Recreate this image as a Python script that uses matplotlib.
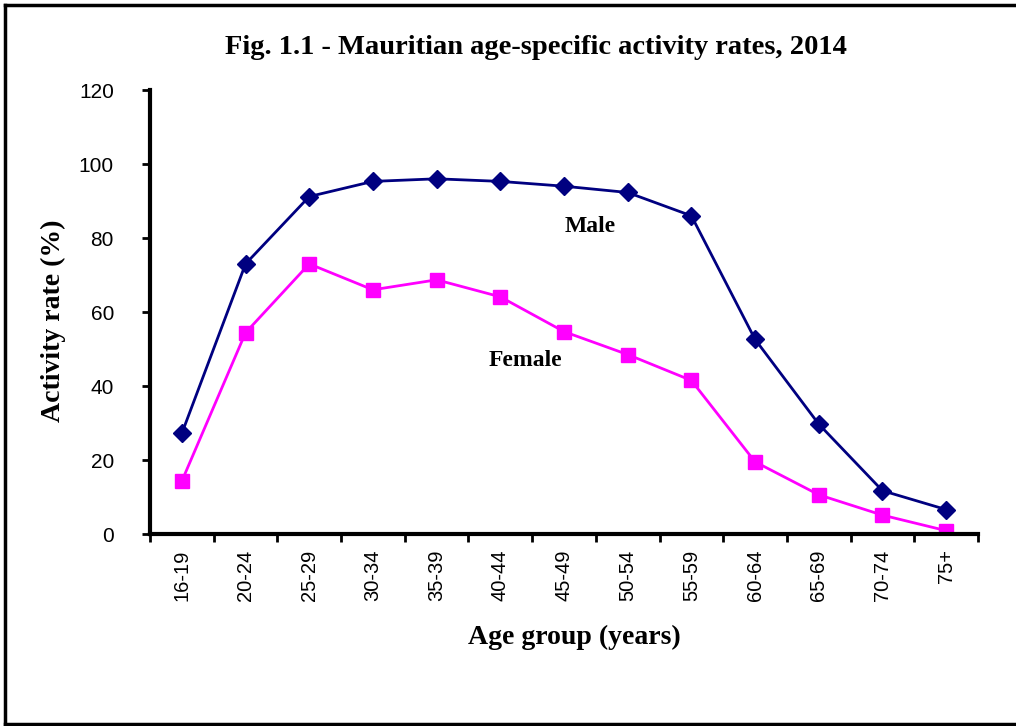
import numpy as np
import matplotlib.pyplot as plt
from matplotlib.lines import Line2D

age_groups = ["16-19", "20-24", "25-29", "30-34", "35-39", "40-44", "45-49",
              "50-54", "55-59", "60-64", "65-69", "70-74", "75+"]
male = [27.2, 73.0, 91.2, 95.3, 96.0, 95.3, 94.0, 92.3, 86.0, 52.6, 29.7, 11.7, 6.6]
female = [14.3, 54.4, 73.0, 66.0, 68.7, 64.1, 54.7, 48.5, 41.5, 19.5, 10.6, 5.1, 0.9]

serif = ["Liberation Serif", "DejaVu Serif"]
sans = ["Liberation Sans", "DejaVu Sans"]

fig = plt.figure(figsize=(10.16, 7.26), dpi=100)
ax = fig.add_axes([150 / 1016, 1 - 534 / 726, 828 / 1016, 444 / 726])

x = np.arange(len(age_groups))
ax.plot(x, male, color="#000080", lw=2, marker="D", ms=9, mfc="#000080", mec="#000080")
ax.plot(x, female, color="#FF00FF", lw=2, marker="s", ms=10, mfc="#FF00FF", mec="#FF00FF")

ax.set_xlim(-0.5, len(age_groups) - 0.5)
ax.set_ylim(0, 120)
ax.set_yticks(np.arange(0, 121, 20))
ax.set_xticks(x)
ax.set_xticklabels(age_groups, rotation=90, fontsize=14.5, family=sans)
ax.set_xticks(np.arange(-0.5, len(age_groups)), minor=True)
ax.tick_params(axis="x", which="major", length=0, pad=11)
ax.tick_params(axis="x", which="minor", length=6, width=2, direction="out")
ax.tick_params(axis="y", length=6, width=2, direction="out", labelsize=15, pad=20)
for lab in ax.get_yticklabels():
    lab.set_family(sans)

for s in ["top", "right"]:
    ax.spines[s].set_visible(False)
for s in ["left", "bottom"]:
    ax.spines[s].set_linewidth(3)

ax.set_xlabel("Age group (years)", fontsize=20, fontweight="bold", family=serif)
ax.xaxis.set_label_coords((574 - 150) / 828, (534 - 625) / 444)
ax.set_ylabel("Activity rate (%)", fontsize=20, fontweight="bold", family=serif)
ax.yaxis.set_label_coords((66 - 150) / 828, (534 - 321) / 444)

ax.text(6.41, 83.2, "Male", fontsize=17, fontweight="bold", family=serif, ha="center", va="center")
ax.text(5.39, 47, "Female", fontsize=17, fontweight="bold", family=serif, ha="center", va="center")

fig.text(536 / 1016, 1 - 48 / 726, "Fig. 1.1 - Mauritian age-specific activity rates, 2014",
         fontsize=20.5, fontweight="bold", family=serif, ha="center", va="center")

# outer frame
for xs, ys in [([5, 5], [5, 724]), ([5, 1016], [5, 5]), ([5, 1016], [724, 724])]:
    fig.add_artist(Line2D([v / 1016 for v in xs], [1 - v / 726 for v in ys],
                          color="black", lw=2.5, transform=fig.transFigure))

fig.savefig("out.png", dpi=100)
